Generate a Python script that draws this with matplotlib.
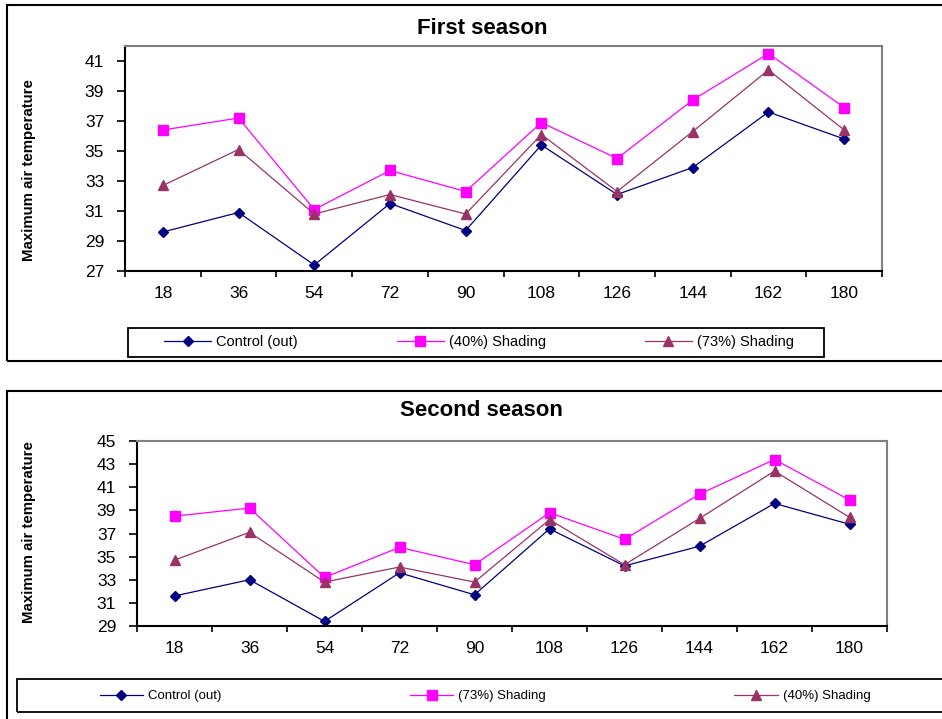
import matplotlib
matplotlib.use("Agg")
import matplotlib.pyplot as plt
from matplotlib.patches import Rectangle
from matplotlib.lines import Line2D
from matplotlib import font_manager
import numpy as np

# ------------------------------------------------
# DATA
# ------------------------------------------------

days = [18, 36, 54, 72, 90, 108, 126, 144, 162, 180]

# first season
s1_control = [29.6, 30.9, 27.4, 31.5, 29.7, 35.4, 32.1, 33.9, 37.6, 35.8]
s1_shade40 = [36.4, 37.2, 31.1, 33.7, 32.3, 36.9, 34.5, 38.4, 41.5, 37.9]
s1_shade73 = [32.7, 35.1, 30.8, 32.1, 30.8, 36.1, 32.3, 36.3, 40.4, 36.4]

# second season (legend order is swapped here)
s2_control = [31.6, 33.0, 29.4, 33.6, 31.7, 37.4, 34.2, 35.9, 39.6, 37.8]
s2_shade73 = [38.5, 39.2, 33.2, 35.8, 34.3, 38.8, 36.5, 40.4, 43.4, 39.9]
s2_shade40 = [34.7, 37.1, 32.8, 34.1, 32.8, 38.2, 34.3, 38.3, 42.4, 38.4]

s1_labels = ["Control (out)", "(40%) Shading", "(73%) Shading"]
s2_labels = ["Control (out)", "(73%) Shading", "(40%) Shading"]

# ------------------------------------------------
# STYLE
# ------------------------------------------------

W, H = 942, 719
NAVY = "#000080"
MAGENTA = "#FF00FF"
PLUM = "#993366"

STYLES = [
    dict(color=NAVY, marker="D", markersize=5.5),
    dict(color=MAGENTA, marker="s", markersize=6.5),
    dict(color=PLUM, marker="^", markersize=7.5),
]

TICK_FONT = "Liberation Sans"


def pick_font(names):
    # first installed family from the list
    for name in names:
        try:
            font_manager.findfont(name, fallback_to_default=False)
            return name
        except ValueError:
            continue
    return "DejaVu Sans"


LABEL_FONT = pick_font(["Liberation Sans Narrow", "Liberation Sans"])
LABEL_SIZE = 13 if LABEL_FONT == "Liberation Sans Narrow" else 10.8


def px_rect(x0, y0, x1, y1):
    # pixel box (top-left origin) -> figure fraction rect
    return [x0 / W, 1 - y1 / H, (x1 - x0) / W, (y1 - y0) / H]


def add_box(fig, x0, y0, x1, y1, lw):
    l, b, w, h = px_rect(x0, y0, x1, y1)
    fig.patches.append(Rectangle((l, b), w, h, transform=fig.transFigure,
                                 fill=False, edgecolor="black", linewidth=lw,
                                 zorder=0))


# ------------------------------------------------
# ONE SEASON PANEL
# ------------------------------------------------

def draw_season(fig, ax_px, series, labels, title, title_px, ylim, yticks,
                label_px, legend_px, legend_box, legend_size, colspacing, handlelen):

    ax = fig.add_axes(px_rect(*ax_px))
    x = np.arange(1, len(days) + 1)

    handles = []
    for values, style in zip(series, STYLES):
        ax.plot(x, values, color=style["color"], linewidth=0.9,
                marker=style["marker"], markersize=style["markersize"],
                markerfacecolor=style["color"], markeredgecolor=style["color"],
                clip_on=False)
        handles.append(Line2D([], [], color=style["color"], linewidth=0.9,
                              marker=style["marker"],
                              markersize=style["markersize"],
                              markerfacecolor=style["color"],
                              markeredgecolor=style["color"]))

    ax.set_xlim(0.5, len(days) + 0.5)
    ax.set_ylim(*ylim)
    ax.set_yticks(yticks)
    ax.set_yticklabels([str(t) for t in yticks], fontfamily=TICK_FONT, fontsize=12.5)

    # ticks between categories, labels under categories
    ax.set_xticks(np.arange(0.5, len(days) + 1, 1.0))
    ax.set_xticklabels([])
    ax.set_xticks(x, minor=True)
    ax.set_xticklabels([str(d) for d in days], minor=True,
                       fontfamily=TICK_FONT, fontsize=12.5)
    ax.tick_params(axis="x", which="major", direction="out", length=4.5,
                   width=1.2, color="black")
    ax.tick_params(axis="x", which="minor", length=0, pad=11)
    ax.tick_params(axis="y", direction="out", length=6, width=1.2, pad=9)

    for side in ["left", "bottom"]:
        ax.spines[side].set_color("black")
        ax.spines[side].set_linewidth(1.5)
    for side in ["top", "right"]:
        ax.spines[side].set_color("#808080")
        ax.spines[side].set_linewidth(1.5)

    fig.text(title_px[0] / W, 1 - title_px[1] / H, title, ha="center",
             va="center", fontsize=16, fontweight="bold", fontfamily=TICK_FONT)

    fig.text(label_px[0] / W, 1 - label_px[1] / H, "Maximum air temperature",
             rotation=90, ha="center", va="center", fontsize=LABEL_SIZE,
             fontweight="bold", fontfamily=LABEL_FONT)

    # legend frame drawn as a separate box, legend itself without frame
    add_box(fig, *legend_box, lw=1.3)
    fig.legend(handles, labels, loc="center",
               bbox_to_anchor=(legend_px[0] / W, 1 - legend_px[1] / H),
               ncol=3, frameon=False,
               prop={"family": TICK_FONT, "size": legend_size},
               handlelength=handlelen, handletextpad=0.35,
               columnspacing=colspacing)
    return ax


# ------------------------------------------------
# MAIN
# ------------------------------------------------

def main():
    fig = plt.figure(figsize=(W / 100, H / 100), dpi=100)
    fig.patch.set_facecolor("white")

    # outer chart-area borders
    add_box(fig, 7, 5, 960, 361, lw=1.5)
    add_box(fig, 7, 391, 960, 730, lw=1.5)

    draw_season(fig, (125, 46, 882, 271),
                [s1_control, s1_shade40, s1_shade73], s1_labels,
                "First season", (482, 28),
                (27, 42), list(range(27, 42, 2)),
                (29, 170), (479, 342), (128, 328, 824, 357),
                10.5, 6.8, 3.2)

    draw_season(fig, (137, 441, 887, 626),
                [s2_control, s2_shade73, s2_shade40], s2_labels,
                "Second season", (481, 411),
                (29, 45), list(range(29, 46, 2)),
                (29, 532), (485, 696), (17, 679, 960, 712),
                9.5, 14.3, 3.3)

    fig.savefig("out.png", dpi=100)
    plt.close(fig)


if __name__ == "__main__":
    main()
